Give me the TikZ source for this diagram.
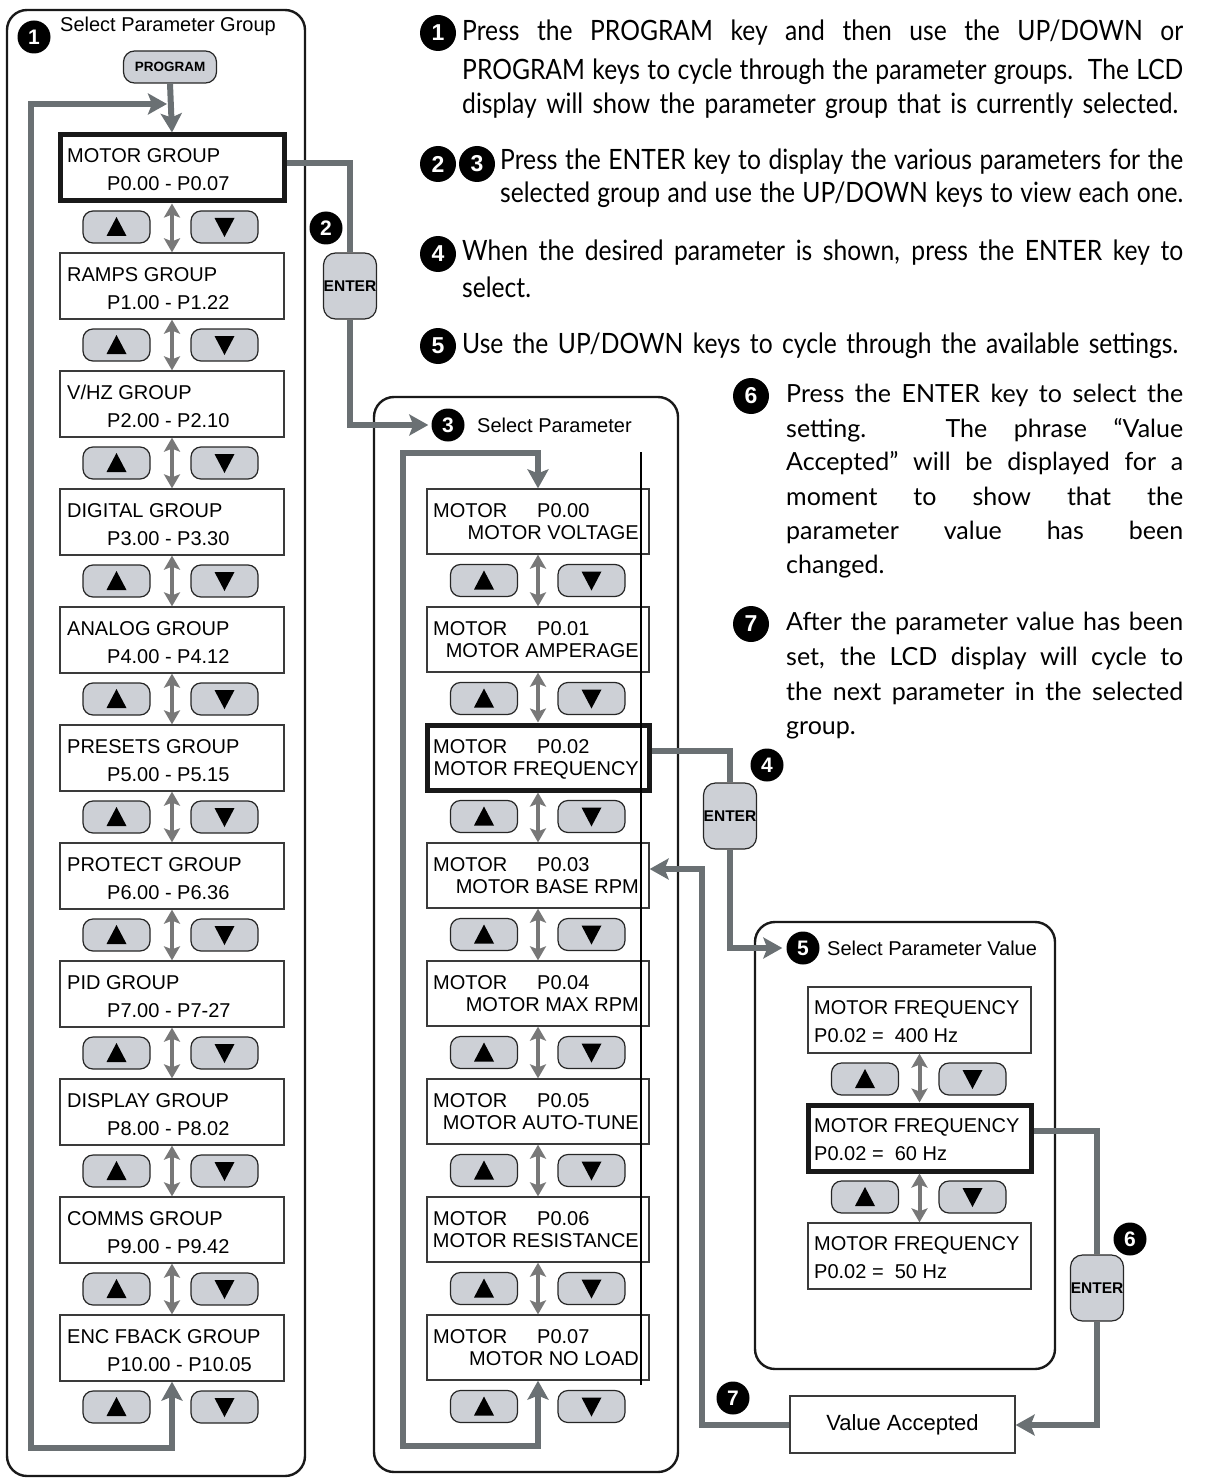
\documentclass[tikz,border=0pt]{standalone}
\usepackage{fontspec}
\setmainfont{Liberation Sans}
\newfontfamily\descA[FakeStretch=0.88]{Lato}
\newfontfamily\descB{Lato}
\usetikzlibrary{arrows.meta}
\definecolor{flowgray}{HTML}{6A7073}
\definecolor{dblgray}{HTML}{787878}
\definecolor{keyfill}{HTML}{CDD0D6}
\definecolor{boxline}{HTML}{3A3A3A}
\newcommand\dA{\descA\fontsize{28}{33}\selectfont}
\newcommand\dB{\descB\fontsize{25}{35}\selectfont}
\tikzset{
 panel/.style={draw=black!90, line width=2.4pt, rounded corners=20pt},
 grp/.style={draw=boxline, line width=1.3pt, minimum width=224pt, minimum height=66pt, inner sep=0pt},
 sel/.style={draw=black!90, line width=5pt, minimum width=224pt, minimum height=66pt, inner sep=0pt},
 key/.style={draw=black!85, fill=keyfill, line width=1.2pt, rounded corners=10pt, minimum width=67pt, minimum height=32pt, inner sep=0pt},
 enterkey/.style={draw=black!85, fill=keyfill, line width=1.2pt, rounded corners=12pt, minimum width=53pt, minimum height=66pt, inner sep=0pt, font=\bfseries\fontsize{15.5}{15.5}\selectfont},
 progkey/.style={draw=black!85, fill=keyfill, line width=1.2pt, rounded corners=11pt, minimum width=93pt, minimum height=32pt, inner sep=0pt, font=\bfseries\fontsize{13.5}{14}\selectfont},
 num/.style={circle, fill=black, text=white, minimum size=33pt, inner sep=0pt, font=\bfseries\fontsize{21}{21}\selectfont},
 dnum/.style={circle, fill=black, text=white, minimum size=36pt, inner sep=0pt, font=\bfseries\fontsize{23}{23}\selectfont},
 flow/.style={draw=flowgray, line width=6pt},
 dbl/.style={draw=dblgray, line width=4pt, {Stealth[length=14pt,width=16pt,inset=3pt]}-{Stealth[length=14pt,width=16pt,inset=3pt]}},
 lbl/.style={anchor=base west, inner sep=0pt},
}
\begin{document}
\begin{tikzpicture}[x=1pt,y=-1pt, font=\fontsize{20}{24}\selectfont, >={Stealth[length=19pt,width=21pt,inset=4pt]}]
\useasboundingbox (0,0) rectangle (1204,1479);

% ---------- panels
\draw[panel] (7,10) rectangle (305,1476);
\draw[panel] (374,397) rectangle (678,1472);
\draw[panel] (755,922) rectangle (1055,1369);

% ---------- left column
\node[num] (n1g) at (34,37) {1};
\node[lbl] (t1g) at (60,32) {Select Parameter Group};
\node[progkey] (prog) at (170,67) {PROGRAM};

\foreach \i/\st/\ta/\tb in {0/sel/MOTOR GROUP/P0.00 - P0.07, 1/grp/RAMPS GROUP/P1.00 - P1.22, 2/grp/{V/HZ GROUP}/P2.00 - P2.10, 3/grp/DIGITAL GROUP/P3.00 - P3.30, 4/grp/ANALOG GROUP/P4.00 - P4.12, 5/grp/PRESETS GROUP/P5.00 - P5.15, 6/grp/PROTECT GROUP/P6.00 - P6.36, 7/grp/PID GROUP/P7.00 - P7-27, 8/grp/DISPLAY GROUP/P8.00 - P8.02, 9/grp/COMMS GROUP/P9.00 - P9.42, 10/grp/ENC FBACK GROUP/P10.00 - P10.05}{
  \pgfmathsetmacro\yt{135+118*\i}
  \node[\st] (g\i) at (172,\yt+33) {};
  \node[lbl] (g\i t) at (67,\yt+28) {\ta};
  \node[lbl] (g\i p) at (107,\yt+56) {\tb};
  \pgfmathsetmacro\yb{\yt+92}
  \node[key] (gu\i) at (116.5,\yb) {};
  \node[key] (gd\i) at (224.5,\yb) {};
  \fill (106.5,\yb+9) -- (126.5,\yb+9) -- (116.5,\yb-10) -- cycle;
  \fill (214.5,\yb-9) -- (234.5,\yb-9) -- (224.5,\yb+10) -- cycle;
}
\foreach \i in {0,...,9}{\pgfmathtruncatemacro\j{\i+1}\draw[dbl] (g\i.south) -- (g\j.north);}

\draw[flow,->] (prog.south) -- (g0.north);
\coordinate (l1) at (172,1448);
\coordinate (l2) at (31,1448);
\coordinate (l3) at (31,104);
\coordinate (l4) at (167,104);
\draw[flow,<->] (g10.south) -- (l1) -- (l2) -- (l3) -- (l4);

% ---------- ENTER 2
\node[enterkey] (e2) at (350,286) {ENTER};
\node[num] (n2d) at (326,228) {2};
\coordinate (a2) at (350,163);
\draw[flow] (g0.east |- a2) -- (a2) -- (e2.north);
\coordinate (a3) at (350,425);
\node[num] (n3) at (448,425) {3};
\draw[flow,->,shorten >=3pt] (e2.south) -- (a3) -- (n3.west);

% ---------- middle column
\node[lbl] (t3) at (477,432) {Select Parameter};
\foreach \k/\st/\tb in {0/grp/MOTOR VOLTAGE, 1/grp/MOTOR AMPERAGE, 2/sel/MOTOR FREQUENCY, 3/grp/MOTOR BASE RPM, 4/grp/MOTOR MAX RPM, 5/grp/MOTOR AUTO-TUNE, 6/grp/MOTOR RESISTANCE, 7/grp/MOTOR NO LOAD}{
  \pgfmathsetmacro\yt{489+118*\k}
  \node[\st, minimum width=222pt, minimum height=65pt] (p\k) at (538,\yt+32.5) {};
  \node[lbl] (p\k t) at (433,\yt+28) {\makebox[104pt][l]{MOTOR}P0.0\k};
  \node[anchor=base east, inner sep=0pt] (p\k n) at (639,\yt+50) {\tb};
  \pgfmathsetmacro\yb{\yt+91.5}
  \node[key] (pu\k) at (484,\yb) {};
  \node[key] (pd\k) at (591.5,\yb) {};
  \fill (474,\yb+9) -- (494,\yb+9) -- (484,\yb-10) -- cycle;
  \fill (581.5,\yb-9) -- (601.5,\yb-9) -- (591.5,\yb+10) -- cycle;
}
\foreach \i in {0,...,6}{\pgfmathtruncatemacro\j{\i+1}\draw[dbl] (p\i.south) -- (p\j.north);}
\draw[line width=1.2pt] (641,452) -- (641,1385);
\coordinate (m1) at (538,1446);
\coordinate (m2) at (403,1446);
\coordinate (m3) at (403,453);
\coordinate (m4) at (538,453);
\draw[flow,<->] (p7.south) -- (m1) -- (m2) -- (m3) -- (m4) -- (p0.north);

% ---------- ENTER 4
\node[enterkey] (e4) at (730,816) {ENTER};
\node[num] (n4d) at (767,765) {4};
\coordinate (a4) at (730,751);
\draw[flow] (p2.east |- a4) -- (a4) -- (e4.north);
\coordinate (a5) at (730,948);
\node[num] (n5) at (803,948) {5};
\draw[flow,->,shorten >=4pt] (e4.south) -- (a5) -- (n5.west);

% ---------- value column
\node[lbl] (t5) at (827,955) {Select Parameter Value};
\foreach \k/\st/\val in {0/grp/400, 1/sel/60, 2/grp/50}{
  \pgfmathsetmacro\yt{987+118*\k}
  \node[\st, minimum width=223pt] (v\k) at (919.5,\yt+33) {};
  \node[lbl] (v\k t) at (814,\yt+27) {MOTOR FREQUENCY};
  \node[lbl] (v\k n) at (814,\yt+55) {P0.02 =\ \ \val\ Hz};
}
\foreach \k in {0,1}{
  \pgfmathsetmacro\yb{987+118*\k+92}
  \node[key] (vu\k) at (865,\yb) {};
  \node[key] (vd\k) at (972.5,\yb) {};
  \fill (855,\yb+9) -- (875,\yb+9) -- (865,\yb-10) -- cycle;
  \fill (962.5,\yb-9) -- (982.5,\yb-9) -- (972.5,\yb+10) -- cycle;
}
\draw[dbl] (v0.south) -- (v1.north);
\draw[dbl] (v1.south) -- (v2.north);

% ---------- ENTER 6 and Value Accepted
\node[enterkey] (e6) at (1097,1288) {ENTER};
\node[num] (n6d) at (1130,1239) {6};
\node[grp, minimum width=225pt, minimum height=57pt, font=\fontsize{22}{26}\selectfont] (va) at (902.5,1424.5) {Value Accepted};
\coordinate (a6) at (1097,1131);
\draw[flow] (v1.east |- a6) -- (a6) -- (e6.north);
\coordinate (a7) at (1097,1425);
\draw[flow,->] (e6.south) -- (a7) -- (va.east |- a7);
\node[num] (n7d) at (733,1398) {7};
\coordinate (b1) at (702,1425);
\coordinate (b2) at (702,869);
\draw[flow,->] (va.west |- b1) -- (b1) -- (b2) -- (p3.east |- b2);

% ---------- description
\node[dnum] (d1) at (438,33) {1};
\node[lbl] (d1a) at (462,41) {\dA\makebox[721pt][s]{Press the PROGRAM key and then use the UP/DOWN or}};
\node[lbl] (d1b) at (462,80) {\dA\makebox[721pt][s]{PROGRAM keys to cycle through the parameter groups.\ \ The LCD}};
\node[lbl] (d1c) at (462,114) {\dA\makebox[716pt][s]{display will show the parameter group that is currently selected.}};

\node[dnum] (d2) at (438,164) {2};
\node[dnum] (d3) at (477,164) {3};
\node[lbl] (d2a) at (500,170) {\dA\makebox[683pt][s]{Press the ENTER key to display the various parameters for the}};
\node[lbl] (d2b) at (500,203) {\dA\makebox[683pt][s]{selected group and use the UP/DOWN keys to view each one.}};

\node[dnum] (d4) at (438,254) {4};
\node[lbl] (d4a) at (462,261) {\dA\makebox[721pt][s]{When the desired parameter is shown, press the ENTER key to}};
\node[lbl] (d4b) at (462,297) {\dA select.};

\node[dnum] (d5) at (438,346) {5};
\node[lbl] (d5a) at (462,353) {\dA\makebox[716pt][s]{Use the UP/DOWN keys to cycle through the available settings.}};

\node[dnum] (d6) at (751,396) {6};
\node[lbl] (d6a) at (786,402) {\dB\makebox[397pt][s]{Press the ENTER key to select the}};
\node[lbl] (d6b) at (786,437) {\dB\makebox[397pt][s]{setting.\ \ \ The phrase “Value}};
\node[lbl] (d6c) at (786,470) {\dB\makebox[397pt][s]{Accepted” will be displayed for a}};
\node[lbl] (d6d) at (786,505) {\dB\makebox[397pt][s]{moment to show that the}};
\node[lbl] (d6e) at (786,539) {\dB\makebox[397pt][s]{parameter value has been}};
\node[lbl] (d6f) at (786,573) {\dB changed.};

\node[dnum] (d7) at (751,624) {7};
\node[lbl] (d7a) at (786,630) {\dB\makebox[397pt][s]{After the parameter value has been}};
\node[lbl] (d7b) at (786,665) {\dB\makebox[397pt][s]{set, the LCD display will cycle to}};
\node[lbl] (d7c) at (786,700) {\dB\makebox[397pt][s]{the next parameter in the selected}};
\node[lbl] (d7d) at (786,734) {\dB group.};
\end{tikzpicture}
\end{document}
